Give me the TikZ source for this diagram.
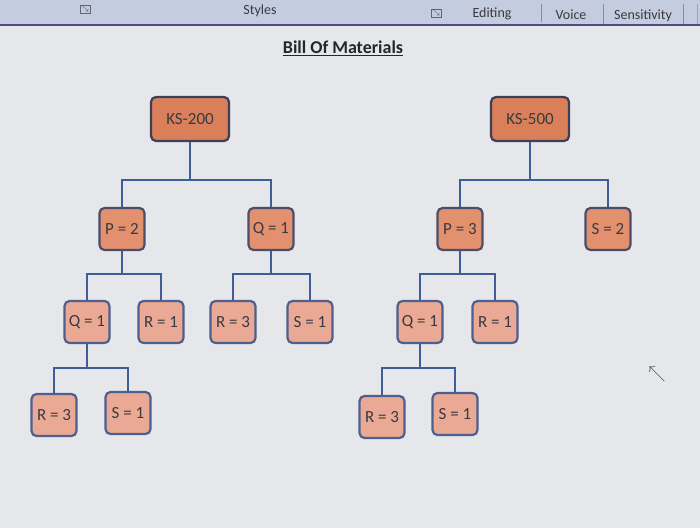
\documentclass[tikz,border=0pt]{standalone}
\usepackage{fontspec}
\setmainfont{Carlito}
\definecolor{bgc}{HTML}{E5E7EA}
\definecolor{barc}{HTML}{C4CCDF}
\definecolor{topfill}{HTML}{D9805A}
\definecolor{midfill}{HTML}{E2906E}
\definecolor{lowfill}{HTML}{EAA994}
\definecolor{topedge}{HTML}{3C3F55}
\definecolor{midedge}{HTML}{4A4E6A}
\definecolor{lowedge}{HTML}{4D5F8E}
\definecolor{connc}{HTML}{3E5E98}
\definecolor{txt}{HTML}{3A3A40}
\begin{document}
\begin{tikzpicture}[x=1pt,y=-1pt,
  every node/.style={font=\fontsize{17}{19}\selectfont, text=txt},
  topbox/.style={draw=topedge, line width=2.2pt, fill=topfill, rounded corners=5pt, minimum width=78pt, minimum height=44pt},
  midbox/.style={draw=midedge, line width=2.2pt, fill=midfill, rounded corners=5pt, minimum width=45pt, minimum height=42pt},
  lowbox/.style={draw=lowedge, line width=2.2pt, fill=lowfill, rounded corners=5pt, minimum width=45pt, minimum height=42pt},
  conn/.style={draw=connc, line width=2.2pt},
  bartext/.style={font=\fontsize{14}{16}\selectfont, text=txt}
]
\useasboundingbox (0,0) rectangle (700,528);
\fill[bgc] (0,0) rectangle (700,528);
\fill[barc] (0,0) rectangle (700,25);
\draw[black!50!blue!40!gray, line width=1.5pt] (0,25) -- (700,25);
\node[bartext] (sty) at (260,11) {Styles};
\node[bartext] (edi) at (492,14) {Editing};
\node[bartext] (voi) at (571,15) {Voice};
\node[bartext] (sen) at (643,16) {Sensitivity};
\node[font=\fontsize{7}{8}\selectfont, draw=black!60, inner sep=1pt] (ic1) at (85,9) {$\searrow$};
\node[font=\fontsize{7}{8}\selectfont, draw=black!60, inner sep=1pt] (ic2) at (436,13) {$\searrow$};
\draw[black!45, line width=0.8pt] (541,4) -- (541,22);
\draw[black!45, line width=0.8pt] (603,4) -- (603,24);
\draw[black!45, line width=0.8pt] (683,4) -- (683,24);
\draw[black!35, line width=0.8pt] (697,4) -- (697,24);

\node[font=\bfseries\fontsize{18}{20}\selectfont, text=black!85] (title) at (343,48) {\underline{Bill Of Materials}};

% KS-200 tree
\node[topbox] (k2) at (190,119) {KS-200};
\node[midbox] (p2) at (122,229) {P = 2};
\node[midbox] (q2) at (271,229) {Q = 1};
\node[lowbox] (q3a) at (87,322) {Q = 1};
\node[lowbox] (r3a) at (161,322) {R = 1};
\node[lowbox] (r3b) at (233,322) {R = 3};
\node[lowbox] (s3b) at (310,322) {S = 1};
\node[lowbox] (r4a) at (54,415) {R = 3};
\node[lowbox] (s4a) at (128,413) {S = 1};

% KS-500 tree
\node[topbox] (k5) at (530,119) {KS-500};
\node[midbox] (p5) at (460,229) {P = 3};
\node[midbox] (s5) at (608,229) {S = 2};
\node[lowbox] (q5) at (420,322) {Q = 1};
\node[lowbox] (r5) at (495,322) {R = 1};
\node[lowbox] (r6) at (382,417) {R = 3};
\node[lowbox] (s6) at (455,414) {S = 1};

\draw[conn] (k2.south) -- ++(0,38) -| (p2.north);
\draw[conn] (k2.south) ++(0,38) -| (q2.north);
\draw[conn] (p2.south) -- ++(0,23) -| (q3a.north);
\draw[conn] (p2.south) ++(0,23) -| (r3a.north);
\draw[conn] (q2.south) -- ++(0,23) -| (r3b.north);
\draw[conn] (q2.south) ++(0,23) -| (s3b.north);
\draw[conn] (q3a.south) -- ++(0,24) -| (r4a.north);
\draw[conn] (q3a.south) ++(0,24) -| (s4a.north);

\draw[conn] (k5.south) -- ++(0,38) -| (p5.north);
\draw[conn] (k5.south) ++(0,38) -| (s5.north);
\draw[conn] (p5.south) -- ++(0,23) -| (q5.north);
\draw[conn] (p5.south) ++(0,23) -| (r5.north);
\draw[conn] (q5.south) -- ++(0,24) -| (r6.north);
\draw[conn] (q5.south) ++(0,24) -| (s6.north);

\node[font=\fontsize{16}{18}\selectfont, text=black!70] (cur) at (657,374) {$\nwarrow$};
\end{tikzpicture}
\end{document}
